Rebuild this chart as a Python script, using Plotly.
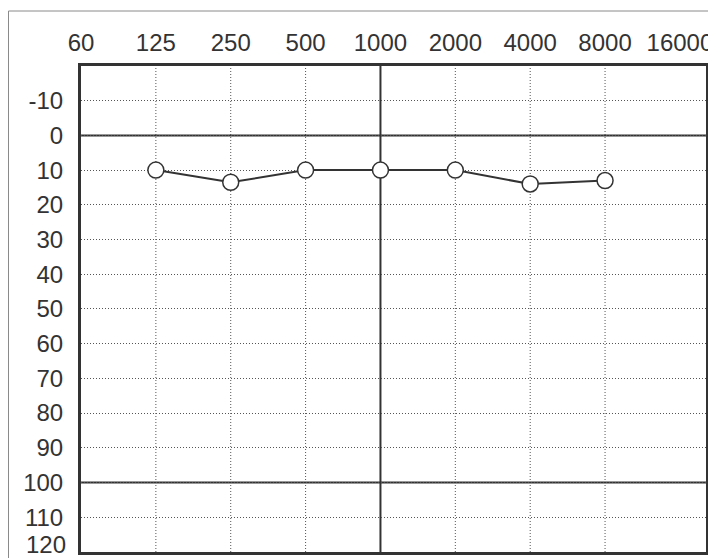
import plotly.graph_objects as go

# Data
freq_labels = ["60", "125", "250", "500", "1000", "2000", "4000", "8000", "16000"]
freq_values = [62.5, 125, 250, 500, 1000, 2000, 4000, 8000, 16000]
test_freqs = [125, 250, 500, 1000, 2000, 4000, 8000]
thresholds_db = [10, 13.5, 10, 10, 10, 14, 13]
db_ticks = [-10, 0, 10, 20, 30, 40, 50, 60, 70, 80, 90, 100, 110, 120]
db_labels = ["-10", "0", "10", "20", "30", "40", "50", "60", "70", "80", "90", "100", "110", "120"]
grid_freqs = [125, 250, 500, 2000, 4000, 8000]
bold_db = [0, 100]
bold_freq = [1000]

W, H = 716, 558
OFF = 8  # page body margin
ML, MR, MT, MB = 81 - OFF, W - (706 - OFF), 66 - OFF, H - (552 - OFF)
pw, ph = W - ML - MR, H - MT - MB
DOT = "1px,2px"

fig = go.Figure()
fig.add_trace(go.Scatter(
    x=test_freqs, y=thresholds_db, mode="lines+markers",
    line=dict(color="#333333", width=2),
    marker=dict(symbol="circle", size=16, color="white",
                line=dict(color="#333333", width=1.5)),
    showlegend=False, cliponaxis=False,
))

shapes = []
for f in grid_freqs:
    shapes.append(dict(type="line", xref="x", yref="paper", x0=f, x1=f, y0=0, y1=1,
                       line=dict(color="#555555", width=1, dash=DOT), layer="below"))
for f in bold_freq:
    shapes.append(dict(type="line", xref="x", yref="paper", x0=f, x1=f, y0=0, y1=1,
                       line=dict(color="#333333", width=2), layer="below"))
for d in bold_db:
    shapes.append(dict(type="line", xref="paper", yref="y", x0=0, x1=1, y0=d, y1=d,
                       line=dict(color="#333333", width=2), layer="below"))
# outer frame of the card (window px -> figure px)
fx0, fx1, fy0, fy1 = 6 - OFF + 2.5, 715 - OFF, 11 - OFF, 570 - OFF
shapes.append(dict(type="rect", xref="paper", yref="paper",
                   x0=(fx0 - ML) / pw, x1=(fx1 - ML) / pw,
                   y0=(H - MB - fy1) / ph, y1=(H - MB - fy0) / ph,
                   line=dict(color="#8a8a8a", width=1), layer="below"))

fig.update_layout(
    width=W, height=H,
    margin=dict(l=ML, r=MR, t=MT, b=MB, autoexpand=False),
    paper_bgcolor="white", plot_bgcolor="white",
    font=dict(family="Liberation Sans, Arial, sans-serif", color="#333333", size=24),
    shapes=shapes,
    annotations=[dict(
        text=db_labels[-1], xref="paper", yref="y", x=0, y=db_ticks[-1],
        xanchor="right", yanchor="middle", xshift=-13, yshift=7,
        showarrow=False, font=dict(size=24, color="#333333"),
    )],
    xaxis=dict(
        type="log", side="top",
        range=[1.7959, 4.309],
        tickvals=freq_values, ticktext=freq_labels,
        showgrid=False, zeroline=False, automargin=False,
        showline=True, mirror=True, linecolor="#333333", linewidth=3,
        ticks="", tickfont=dict(size=24), ticklabelstandoff=2,
    ),
    yaxis=dict(
        range=[120.05, -20],
        tickvals=db_ticks[:-1], ticktext=db_labels[:-1],
        showgrid=True, gridcolor="#555555", griddash=DOT, gridwidth=1,
        zeroline=False, automargin=False,
        showline=True, mirror=True, linecolor="#333333", linewidth=3,
        ticks="", tickfont=dict(size=24), ticklabelstandoff=10,
    ),
)

fig.write_html("out.html")
